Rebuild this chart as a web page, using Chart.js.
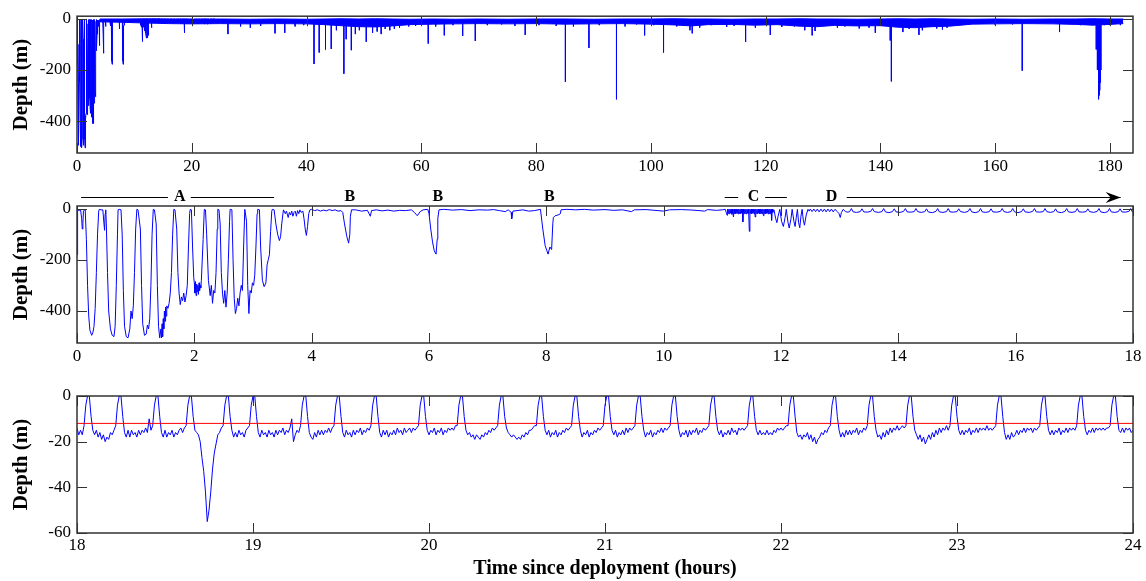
<!DOCTYPE html>
<html>
<head>
<meta charset="utf-8">
<script src="https://cdn.jsdelivr.net/npm/chart.js@4.4.1/dist/chart.umd.min.js"></script>
<style>
  body { margin: 0; background: #fff; width: 1146px; height: 581px; position: relative; overflow: hidden; }
  canvas { position: absolute; left: 0; }
</style>
</head>
<body>
<canvas id="panel1" width="1146" height="181" style="top:0px"></canvas>
<canvas id="panel2" width="1146" height="190" style="top:181px"></canvas>
<canvas id="panel3" width="1146" height="210" style="top:371px"></canvas>
<script>
// ---- tick labels ----
const xTicks1 = [0, 20, 40, 60, 80, 100, 120, 140, 160, 180];
const xTicks2 = [0, 2, 4, 6, 8, 10, 12, 14, 16, 18];
const xTicks3 = [18, 19, 20, 21, 22, 23, 24];
const yTicksDeep = [-400, -200, 0];
const yTicks3 = [-60, -40, -20, 0];

// ---- panel 2: first 18 h (time in hours, depth in m) ----
const p2Time = [
  0.00, 0.01, 0.04, 0.06, 0.08, 0.09, 0.10, 0.11, 0.13,
  0.14, 0.16, 0.18, 0.20, 0.22, 0.25, 0.27, 0.29, 0.31, 0.33, 0.35, 0.37, 0.38,
  0.41, 0.44, 0.46, 0.47, 0.48, 0.49,
  0.50, 0.52, 0.54, 0.57, 0.60, 0.63, 0.65, 0.67, 0.69, 0.70, 0.72, 0.75,
  0.77, 0.79, 0.81, 0.84, 0.87, 0.90, 0.92, 0.94, 0.96, 0.98, 1.00, 1.02, 1.04,
  1.08, 1.10, 1.12, 1.15, 1.18, 1.20, 1.22, 1.24, 1.26, 1.28, 1.30, 1.32,
  1.35, 1.37, 1.39, 1.41, 1.43, 1.44, 1.45, 1.46, 1.47, 1.48, 1.49, 1.50, 1.51, 1.52, 1.53, 1.55, 1.57, 1.59, 1.61, 1.63, 1.65, 1.67,
  1.70, 1.72, 1.74, 1.76, 1.78, 1.80, 1.82, 1.84, 1.86, 1.88, 1.90, 1.92, 1.93,
  1.95, 1.97, 1.99, 2.00, 2.01, 2.02, 2.03, 2.04, 2.05, 2.06, 2.07, 2.08, 2.09, 2.10, 2.11, 2.12, 2.15, 2.17,
  2.19, 2.21, 2.24, 2.27, 2.29, 2.31, 2.33, 2.35, 2.37, 2.39, 2.40,
  2.42, 2.44, 2.46, 2.48, 2.50, 2.52, 2.54, 2.56, 2.58, 2.60, 2.61,
  2.64, 2.66, 2.68, 2.70, 2.72, 2.74, 2.76, 2.78, 2.80, 2.82, 2.84, 2.86,
  2.89, 2.91, 2.93, 2.95, 2.97, 2.99, 3.01, 3.03, 3.05, 3.07, 3.08,
  3.11, 3.13, 3.16, 3.19, 3.22, 3.24, 3.26, 3.28, 3.30, 3.32, 3.33,
  3.36, 3.39, 3.42, 3.45, 3.47, 3.49, 3.51, 3.52,
  3.55, 3.57, 3.60, 3.62, 3.64, 3.66, 3.68, 3.70, 3.72, 3.74, 3.76, 3.78, 3.80, 3.82, 3.85,
  3.87, 3.89, 3.91, 3.93, 3.95, 3.97,
  4.00, 4.05, 4.10, 4.15, 4.20, 4.25, 4.30, 4.35, 4.40, 4.45, 4.50, 4.53,
  4.56, 4.60, 4.63, 4.65, 4.66, 4.68,
  4.75, 4.85, 4.95, 5.00, 5.02, 5.10, 5.20, 5.30, 5.40, 5.50, 5.60, 5.70, 5.75, 5.80, 5.85, 5.90, 5.98,
  6.00, 6.03, 6.06, 6.09, 6.12, 6.14, 6.15, 6.17,
  6.25, 6.40, 6.55, 6.70, 6.85, 7.00, 7.10, 7.20, 7.30, 7.35, 7.40, 7.41, 7.43, 7.50, 7.60, 7.70, 7.80, 7.90,
  7.94, 7.98, 8.01, 8.03, 8.06, 8.09, 8.11, 8.12, 8.15, 8.20, 8.24, 8.25,
  8.35, 8.50, 8.65, 8.80, 9.00, 9.15, 9.30, 9.45, 9.50, 9.70, 9.85, 10.00, 10.10, 10.30, 10.50, 10.70, 10.75, 10.90, 11.00, 11.05,
  11.07, 11.08, 11.09, 11.10, 11.11, 11.12, 11.13, 11.14, 11.15, 11.16,
  11.17, 11.18, 11.19, 11.20, 11.21, 11.22, 11.23, 11.24, 11.25, 11.26,
  11.27, 11.28, 11.29, 11.30, 11.31, 11.32, 11.33, 11.34, 11.35, 11.36,
  11.37, 11.38, 11.39, 11.40, 11.41, 11.42, 11.43, 11.44, 11.45, 11.46,
  11.47, 11.48, 11.49, 11.50, 11.51, 11.52, 11.53, 11.54, 11.55, 11.56,
  11.57, 11.58, 11.59, 11.60, 11.61, 11.62, 11.63, 11.64, 11.65, 11.66,
  11.67, 11.68, 11.69, 11.70, 11.71, 11.72, 11.73, 11.74, 11.75, 11.76,
  11.77, 11.78, 11.79, 11.80, 11.81, 11.82, 11.83, 11.84, 11.85, 11.86,
  11.88, 11.91, 11.93, 11.95, 11.98, 12.01, 12.04, 12.07, 12.09, 12.12, 12.14, 12.17, 12.19, 12.22, 12.24, 12.26, 12.28, 12.30, 12.32, 12.34, 12.36, 12.38, 12.40, 12.43, 12.46,
  12.48, 12.50, 12.53, 12.56, 12.59, 12.62, 12.65, 12.68, 12.71, 12.74, 12.77, 12.80, 12.83, 12.86, 12.89, 12.92, 12.96, 12.99, 13.01, 13.03, 13.06, 13.10, 13.14,
  13.17, 13.20, 13.23, 13.29,
  13.35, 13.38, 13.41, 13.47,
  13.53, 13.56, 13.59, 13.66,
  13.72, 13.75, 13.78, 13.84,
  13.90, 13.93, 13.96, 14.03,
  14.09, 14.12, 14.15, 14.21,
  14.27, 14.30, 14.33, 14.39,
  14.45, 14.48, 14.51, 14.58,
  14.64, 14.67, 14.70, 14.76,
  14.82, 14.85, 14.88, 14.94,
  15.00, 15.03, 15.06, 15.13,
  15.19, 15.22, 15.25, 15.31,
  15.37, 15.40, 15.43, 15.49,
  15.55, 15.58, 15.61, 15.68,
  15.74, 15.77, 15.80, 15.86,
  15.92, 15.95, 15.98, 16.04,
  16.10, 16.13, 16.16, 16.23,
  16.29, 16.32, 16.35, 16.41,
  16.47, 16.50, 16.53, 16.59,
  16.65, 16.68, 16.71, 16.78,
  16.84, 16.87, 16.90, 16.96,
  17.02, 17.05, 17.08, 17.14,
  17.20, 17.23, 17.26, 17.33,
  17.39, 17.42, 17.45, 17.51,
  17.57, 17.60, 17.63, 17.69,
  17.75, 17.78, 17.81, 17.87,
  17.93, 17.96, 17.99, 18.00
];
const p2Depth = [
  -180, -5, -8, -3, -40, -80, -60, -10, -5,
  -5, -120, -300, -420, -475, -495, -485, -460, -390, -250, -100, -10, -3,
  -5, -5, -60, -85, -20, -5,
  -60, -250, -400, -470, -495, -500, -460, -300, -100, -5, -3, -5,
  -100, -320, -460, -500, -505, -470, -400, -430, -380, -250, -80, -3, -5,
  -80, -300, -450, -495, -490, -455, -470, -430, -300, -100, -3, -5,
  -60, -300, -460, -505, -470, -505, -450, -500, -430, -470, -400, -440, -385, -420, -380, -390, -370, -330, -250, -100, -3, -5,
  -80, -250, -330, -375, -345, -360, -330, -365, -340, -300, -150, -20, -3,
  -5, -150, -270, -290, -330, -285, -340, -295, -325, -300, -335, -290, -320, -300, -310, -280, -120, -3,
  -5, -100, -280, -340, -300, -370, -320, -330, -250, -80, -3,
  -5, -60, -250, -330, -370, -320, -385, -330, -200, -50, -3,
  -5, -200, -350, -410, -390, -350, -380, -330, -300, -320, -150, -3,
  -50, -300, -410, -320, -330, -290, -300, -260, -150, -20, -3,
  -5, -150, -280, -305, -290, -220, -200, -180, -90, -10, -3,
  -5, -60, -100, -125, -110, -60, -20, -5,
  -20, -10, -35, -15, -25, -10, -30, -15, -10, -30, -8, -20, -5, -15, -10,
  -40, -80, -105, -70, -20, -5,
  -3, -8, -5, -10, -6, -9, -4, -8, -5, -10, -8, -15,
  -60, -110, -135, -100, -30, -5,
  -5, -10, -7, -30, -8, -5, -9, -6, -10, -7, -8, -5, -15, -28, -12, -5, -3,
  -20, -80, -130, -165, -178, -120, -40, -5,
  -3, -6, -4, -8, -5, -6, -4, -8, -12, -5, -15, -40, -10, -8, -5, -10, -8, -3,
  -80, -145, -165, -178, -150, -160, -60, -35, -28, -25, -20, -5,
  -3, -5, -3, -6, -4, -7, -5, -12, -5, -4, -7, -10, -5, -4, -6, -10, -4, -7, -5, -3,
  -18, -26, -2, -19, -3, -20, -2, -18, -3, -22,
  -2, -20, -33, -2, -19, -3, -20, -2, -18, -3,
  -21, -2, -19, -3, -20, -2, -18, -3, -52, -2,
  -20, -3, -19, -2, -21, -3, -18, -2, -20, -89,
  -3, -19, -2, -20, -3, -18, -2, -21, -3, -33,
  -2, -19, -3, -20, -2, -18, -3, -21, -2, -19,
  -3, -20, -2, -28, -3, -19, -2, -20, -3, -18,
  -2, -21, -3, -19, -2, -20, -3, -46, -2, -15,
  -5, -40, -55, -30, -3, -50, -70, -35, -3, -55, -76, -40, -3, -50, -70, -35, -3, -55, -75, -30, -3, -45, -65, -25, -3,
  -10, -2, -12, -2, -12, -2, -13, -2, -12, -2, -13, -2, -12, -2, -13, -3, -12, -20, -35, -15, -3, -12, -14,
  -12, 0, -13, -15,
  -12, -1, -13, -14,
  -11, 0, -12, -15,
  -12, 0, -13, -16,
  -12, -1, -13, -15,
  -11, 0, -13, -14,
  -12, 0, -12, -15,
  -12, -1, -13, -16,
  -11, 0, -13, -15,
  -12, 0, -13, -14,
  -12, -1, -12, -15,
  -11, 0, -13, -16,
  -12, 0, -13, -15,
  -12, -1, -13, -14,
  -11, 0, -12, -15,
  -12, 0, -13, -16,
  -12, -1, -13, -15,
  -11, 0, -13, -14,
  -12, 0, -12, -15,
  -12, -1, -13, -16,
  -11, 0, -13, -15,
  -12, 0, -13, -14,
  -12, -1, -12, -15,
  -11, 0, -13, -16,
  -12, 0, -13, -15,
  -12, -1, -13, -14,
  -11, 0, -13, -14
];

// ---- panel 3: 18-24 h, one sample every 0.01 h ----
const p3Start = 18;
const p3Step = 0.01;
const p3Depth = [
  -14, -17, -15, -17, -13, -4, 0, 0, -9, -15,
  -17, -15, -18, -16, -19, -17, -20, -18, -19, -16,
  -17, -15, -13, -4, 0, 0, -9, -16, -18, -15,
  -18, -15, -17, -16, -18, -15, -17, -15, -16, -14,
  -16, -10, -15, -13, -4, 0, 0, -9, -16, -18,
  -15, -18, -16, -17, -15, -18, -16, -17, -15, -14,
  -16, -14, -13, -4, 0, 0, -9, -15, -16, -17,
  -20, -27, -33, -42, -55, -50, -42, -32, -25, -21,
  -17, -16, -14, -13, -4, 0, 0, -9, -15, -18,
  -16, -18, -15, -17, -16, -18, -15, -14, -13, -4,
  0, 0, -9, -16, -18, -15, -17, -16, -18, -15,
  -17, -16, -18, -15, -17, -15, -16, -14, -17, -15,
  -16, -14, -10, -20, -17, -15, -16, -13, -4, 0,
  0, -9, -16, -18, -19, -16, -18, -15, -17, -15,
  -17, -15, -16, -14, -16, -14, -13, -4, 0, 0,
  -9, -16, -18, -15, -17, -16, -18, -15, -17, -15,
  -16, -14, -17, -15, -16, -14, -15, -13, -4, 0,
  0, -9, -16, -18, -15, -17, -15, -18, -16, -17,
  -15, -17, -14, -16, -15, -17, -14, -16, -15, -14,
  -16, -14, -15, -14, -13, -4, 0, 0, -9, -15,
  -17, -15, -16, -14, -17, -15, -16, -14, -17, -15,
  -16, -14, -15, -14, -15, -13, -13, -4, 0, 0,
  -9, -15, -17, -16, -18, -17, -19, -17, -18, -19,
  -17, -18, -16, -17, -15, -16, -14, -15, -14, -13,
  -4, 0, 0, -9, -14, -16, -17, -18, -17, -18,
  -19, -18, -19, -17, -18, -16, -17, -15, -15, -14,
  -13, -13, -4, 0, 0, -9, -15, -17, -15, -18,
  -16, -17, -15, -18, -16, -17, -15, -16, -14, -15,
  -14, -13, -4, 0, 0, -9, -15, -18, -16, -17,
  -15, -18, -16, -17, -15, -16, -14, -15, -14, -13,
  -4, 0, 0, -9, -15, -17, -15, -18, -16, -17,
  -15, -17, -14, -16, -14, -15, -14, -13, -4, 0,
  0, -9, -15, -18, -16, -17, -15, -18, -16, -17,
  -15, -16, -14, -16, -14, -15, -14, -13, -4, 0,
  0, -9, -15, -18, -16, -17, -15, -18, -15, -17,
  -15, -16, -14, -17, -15, -16, -14, -15, -14, -13,
  -4, 0, 0, -9, -15, -17, -15, -18, -16, -17,
  -15, -17, -14, -16, -15, -17, -14, -15, -14, -15,
  -14, -13, -4, 0, 0, -9, -15, -17, -15, -17,
  -16, -17, -15, -17, -16, -17, -15, -16, -14, -15,
  -14, -15, -14, -13, -13, -4, 0, 0, -9, -16,
  -18, -17, -19, -17, -18, -16, -19, -17, -20, -18,
  -21, -19, -18, -16, -17, -15, -16, -14, -13, -4,
  0, 0, -9, -15, -18, -16, -18, -15, -17, -15,
  -17, -15, -16, -14, -17, -15, -16, -14, -15, -13,
  -4, 0, 0, -9, -15, -18, -17, -19, -16, -18,
  -15, -17, -14, -16, -14, -15, -13, -15, -14, -13,
  -14, -13, -4, 0, 0, -9, -15, -17, -19, -17,
  -20, -18, -21, -19, -17, -19, -16, -18, -15, -17,
  -14, -16, -14, -15, -13, -15, -13, -4, 0, 0,
  -9, -15, -17, -15, -17, -15, -16, -14, -17, -15,
  -16, -14, -16, -14, -15, -14, -15, -13, -15, -14,
  -15, -14, -13, -4, 0, 0, -9, -16, -19, -17,
  -19, -16, -18, -17, -15, -17, -15, -16, -14, -16,
  -14, -15, -14, -16, -14, -15, -14, -13, -4, 0,
  0, -9, -15, -17, -15, -17, -15, -16, -14, -17,
  -15, -16, -14, -16, -14, -15, -14, -15, -13, -4,
  0, 0, -9, -15, -17, -15, -16, -14, -16, -14,
  -15, -14, -15, -14, -15, -14, -14, -13, -4, 0,
  0, -9, -15, -16, -14, -16, -14, -15, -14, -16,
  -15
];
const redLineDepth = -12;

// ---- panel 1: whole deployment; dense surface band + isolated deep dives ----
const bandTime = [4.0, 8.0, 12.4, 16, 20, 25, 30, 35, 40, 43, 46, 49, 52, 55, 58, 62, 66, 70, 75, 80, 85, 90, 95, 100, 104, 107, 110,
  114, 118, 122, 126, 129, 132, 136, 140, 143, 146, 149, 152, 156, 160, 165, 170, 174, 177, 180, 182.3];
const bandTop = [-1, -1, 0, -1, -2, -1, -2, -1, -2, -1, 0, -1, 0, -1, -2, -1, -2, -1, -2, -1, -1, -2, -1, -1, 0, -1, -1,
  -2, -1, -1, 0, -1, -1, -2, -1, 0, -1, 0, -1, -2, -1, -2, -1, -1, 0, -1, -1];
const bandBottom = [-12, -14, -17, -19, -20, -19, -20, -19, -20, -23, -27, -31, -32, -28, -23, -21, -20, -19, -20, -19, -21, -20, -19, -21, -24, -28, -23,
  -22, -25, -23, -29, -31, -26, -28, -27, -33, -35, -31, -29, -21, -20, -19, -20, -22, -25, -22, -19];
const spikeBase = -15;
const spikeTime = [
  26.3, 28.5, 30.2, 32.0, 34.5, 36.2, 38.0, 39.5, 41.3, 42.2,
  43.3, 44.3, 45.2, 46.5, 46.9, 47.8, 48.5, 49.2, 50.4, 51.5,
  52.3, 53.0, 53.7, 54.5, 55.3, 56.2, 57.8, 59.0, 61.2, 62.5,
  64.0, 65.5, 67.2, 69.4, 71.5, 74.0, 76.3, 78.1, 80.5, 83.5,
  85.1, 86.5, 89.2, 91.0, 94.0, 95.5, 97.5, 98.9, 100.5, 102.2,
  104.5, 106.8, 107.2, 108.5, 110.5, 113.2, 114.5, 116.5, 118.2, 120.8,
  122.8, 125.0, 126.8, 128.1, 128.6, 130.5, 132.5, 133.8, 136.3, 138.0,
  139.1, 141.7, 141.9, 143.9, 145.0, 146.7, 147.3, 149.8, 150.8, 151.6,
  154.0, 157.5, 160.0, 163.0, 164.7, 167.5, 171.2, 174.9, 177.6, 177.8,
  178.0, 178.1, 178.2, 178.3, 178.4, 179.0, 180.0, 181.8
];
const spikeDepth = [
  -60, -30, -35, -28, -57, -55, -30, -25, -177, -132,
  -120, -118, -45, -215, -80, -123, -60, -45, -90, -55,
  -50, -60, -40, -45, -40, -35, -30, -28, -97, -30,
  -65, -25, -67, -87, -25, -22, -28, -63, -25, -28,
  -247, -30, -114, -25, -315, -30, -22, -65, -25, -132,
  -30, -45, -57, -35, -25, -32, -28, -91, -35, -63,
  -32, -30, -45, -65, -48, -25, -35, -30, -38, -35,
  -55, -85, -245, -52, -40, -63, -45, -38, -42, -35,
  -22, -20, -25, -22, -203, -20, -52, -25, -120, -200,
  -315, -300, -280, -250, -200, -25, -25, -25
];

// ---- panel 2 annotations ----
const annoLabels = ['A', 'B', 'B', 'B', 'C', 'D'];
const annoTimes = [1.75, 4.65, 6.15, 8.05, 11.53, 12.86];
const annoSpans = [[0.07, 1.55], [1.94, 3.36], [11.04, 11.27], [11.73, 12.10], [13.12, 17.79]];

const FONT = "'Liberation Serif', 'Times New Roman', serif";
const BLUE = '#0000ff';

function toPoints(times, depths) {
  return times.map((t, i) => ({ x: t, y: depths[i] }));
}
const p2Points = toPoints(p2Time, p2Depth);
const p3Points = p3Depth.map((d, i) => ({ x: +(p3Start + i * p3Step).toFixed(2), y: d }));
const spikePoints = spikeTime.flatMap((t, i) => [
  { x: t, y: spikeBase }, { x: t, y: spikeDepth[i] }, { x: t, y: null }
]);

// box + inward tick marks, matlab style
const boxPlugin = {
  id: 'box',
  afterDraw(chart) {
    const { ctx, chartArea: a, scales: { x, y } } = chart;
    ctx.save();
    ctx.strokeStyle = '#333';
    ctx.lineWidth = 1;
    ctx.beginPath();
    x.ticks.forEach((t) => {
      const px = Math.round(x.getPixelForValue(t.value)) + 0.5;
      ctx.moveTo(px, a.bottom); ctx.lineTo(px, a.bottom - 10);
      ctx.moveTo(px, a.top); ctx.lineTo(px, a.top + 10);
    });
    y.ticks.forEach((t) => {
      const py = Math.round(y.getPixelForValue(t.value)) + 0.5;
      ctx.moveTo(a.left, py); ctx.lineTo(a.left + 10, py);
      ctx.moveTo(a.right, py); ctx.lineTo(a.right - 10, py);
    });
    ctx.stroke();
    ctx.lineWidth = 1.5;
    ctx.strokeRect(a.left, a.top, a.right - a.left, a.bottom - a.top);
    ctx.restore();
  }
};

const annoPlugin = {
  id: 'anno',
  afterDraw(chart) {
    const { ctx, chartArea: a, scales: { x } } = chart;
    const yMid = a.top - 9;
    ctx.save();
    ctx.fillStyle = '#000';
    ctx.strokeStyle = '#000';
    ctx.lineWidth = 1;
    ctx.font = 'bold 16px ' + FONT;
    ctx.textAlign = 'center';
    ctx.textBaseline = 'middle';
    annoLabels.forEach((s, i) => ctx.fillText(s, x.getPixelForValue(annoTimes[i]), yMid));
    ctx.beginPath();
    annoSpans.forEach(([t0, t1]) => {
      ctx.moveTo(x.getPixelForValue(t0), yMid + 0.5);
      ctx.lineTo(x.getPixelForValue(t1), yMid + 0.5);
    });
    ctx.stroke();
    // arrow head on the D span
    const last = annoSpans[annoSpans.length - 1];
    const xe = x.getPixelForValue(last[1]);
    ctx.beginPath();
    ctx.moveTo(xe, yMid + 0.5);
    ctx.lineTo(xe - 15, yMid - 5);
    ctx.lineTo(xe - 10, yMid + 0.5);
    ctx.lineTo(xe - 15, yMid + 6);
    ctx.closePath();
    ctx.fill();
    ctx.restore();
  }
};

function makePanel(id, cfg) {
  return new Chart(document.getElementById(id), {
    type: 'line',
    data: { datasets: cfg.datasets },
    options: {
      responsive: false,
      animation: false,
      devicePixelRatio: 1,
      layout: { padding: { left: 0, right: 13, top: cfg.padTop, bottom: 0 } },
      elements: { point: { radius: 0 }, line: { borderWidth: 1, tension: 0 } },
      plugins: { legend: { display: false }, tooltip: { enabled: false } },
      scales: {
        x: {
          type: 'linear',
          min: cfg.xMin,
          max: cfg.xMax,
          grid: { display: false, drawTicks: false },
          border: { display: false },
          ticks: {
            font: { family: FONT, size: 17 }, color: '#000', padding: cfg.xPad,
            maxRotation: 0, autoSkip: false, callback: (v) => String(v)
          },
          afterBuildTicks: (s) => { s.ticks = cfg.xTicks.map((v) => ({ value: v })); },
          afterFit: (s) => { s.height = cfg.xHeight; },
          title: cfg.xTitle
            ? { display: true, text: cfg.xTitle, color: '#000', font: { family: FONT, size: 20, weight: 'bold' }, padding: { top: 0, bottom: 0 } }
            : { display: false }
        },
        y: {
          min: cfg.yMin,
          max: cfg.yMax,
          grid: { display: false, drawTicks: false },
          border: { display: false },
          ticks: { font: { family: FONT, size: 17 }, color: '#000', padding: 6, autoSkip: false, callback: (v) => String(v) },
          afterBuildTicks: (s) => { s.ticks = cfg.yTicks.map((v) => ({ value: v })); },
          afterFit: (s) => { s.width = 77; },
          title: { display: true, text: 'Depth (m)', color: '#000', font: { family: FONT, size: 21, weight: 'bold' }, padding: { top: 9, bottom: 0 } }
        }
      }
    },
    plugins: [boxPlugin].concat(cfg.plugins || [])
  });
}

makePanel('panel1', {
  padTop: 16, xHeight: 28, xPad: 3,
  xMin: 0, xMax: 184, xTicks: xTicks1,
  yMin: -525, yMax: 10, yTicks: yTicksDeep,
  datasets: [
    { data: toPoints(bandTime, bandTop), borderColor: BLUE, borderWidth: 1, fill: false, order: 3 },
    { data: toPoints(bandTime, bandBottom), borderColor: BLUE, borderWidth: 1, backgroundColor: BLUE, fill: '-1', order: 3 },
    { data: p2Points.concat(p3Points), borderColor: BLUE, order: 2 },
    { data: spikePoints, borderColor: BLUE, spanGaps: false, order: 1 }
  ]
});

makePanel('panel2', {
  padTop: 25, xHeight: 28, xPad: 3,
  xMin: 0, xMax: 18, xTicks: xTicks2,
  yMin: -525, yMax: 10, yTicks: yTicksDeep,
  datasets: [{ data: p2Points, borderColor: BLUE }],
  plugins: [annoPlugin]
});

makePanel('panel3', {
  padTop: 25, xHeight: 48, xPad: 2,
  xMin: 18, xMax: 24, xTicks: xTicks3,
  yMin: -60, yMax: 0, yTicks: yTicks3,
  xTitle: 'Time since deployment (hours)',
  datasets: [
    { data: [{ x: 18, y: redLineDepth }, { x: 24, y: redLineDepth }], borderColor: '#ff0000', order: 0 },
    { data: p3Points, borderColor: BLUE, order: 1 }
  ]
});
</script>
</body>
</html>
